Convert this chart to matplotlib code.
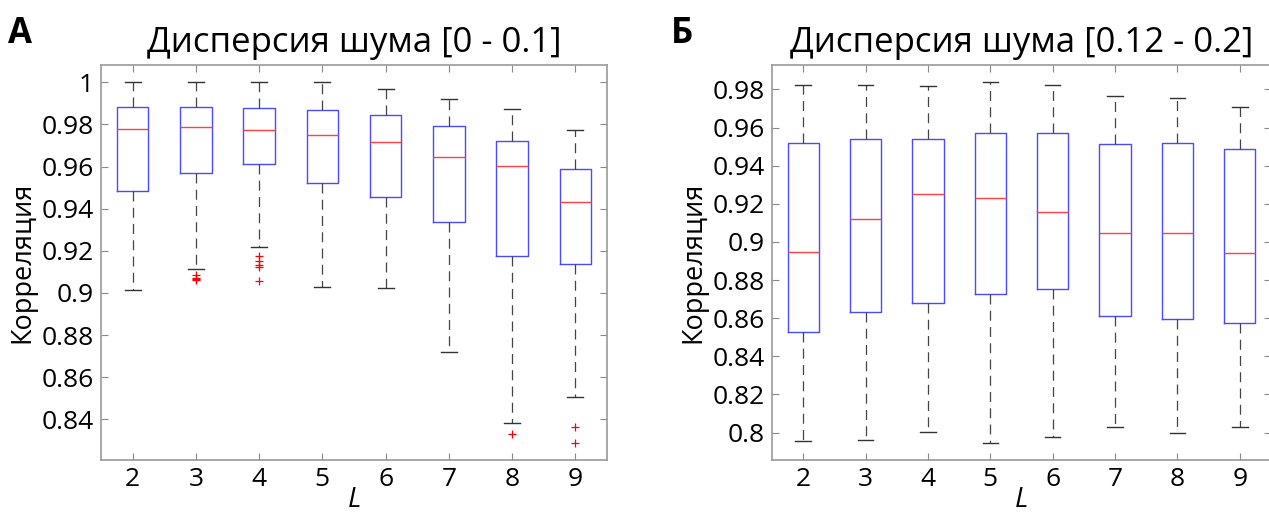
import matplotlib
matplotlib.use("Agg")
import matplotlib.pyplot as plt

plt.rcParams['font.family'] = ['Open Sans', 'DejaVu Sans']

L_values = [2, 3, 4, 5, 6, 7, 8, 9]

# Panel A: noise variance [0 - 0.1]
a_whislo = [0.9016, 0.9116, 0.9216, 0.9026, 0.9023, 0.8719, 0.8383, 0.8505]
a_q1     = [0.9484, 0.9571, 0.9612, 0.9523, 0.9457, 0.9338, 0.9176, 0.9137]
a_med    = [0.9780, 0.9789, 0.9772, 0.9748, 0.9715, 0.9645, 0.9602, 0.9433]
a_q3     = [0.9881, 0.9883, 0.9876, 0.9870, 0.9845, 0.9792, 0.9723, 0.9587]
a_whishi = [1.0000, 1.0000, 1.0000, 1.0000, 0.9967, 0.9919, 0.9875, 0.9772]
a_fliers = [[], [0.9084, 0.9073, 0.9066, 0.9062], [0.9175, 0.9153, 0.9132, 0.9124, 0.9056],
            [], [], [], [0.8332], [0.8364, 0.8289]]

# Panel B: noise variance [0.12 - 0.2]
b_whislo = [0.7958, 0.7961, 0.8003, 0.7947, 0.7979, 0.8031, 0.8000, 0.8029]
b_q1     = [0.8529, 0.8631, 0.8678, 0.8727, 0.8751, 0.8611, 0.8594, 0.8573]
b_med    = [0.8949, 0.9120, 0.9251, 0.9230, 0.9155, 0.9047, 0.9048, 0.8943]
b_q3     = [0.9520, 0.9538, 0.9541, 0.9573, 0.9573, 0.9512, 0.9519, 0.9489]
b_whishi = [0.9821, 0.9821, 0.9817, 0.9837, 0.9824, 0.9767, 0.9755, 0.9706]
b_fliers = [[], [], [], [], [], [], [], []]

a_yticks = [0.84, 0.86, 0.88, 0.9, 0.92, 0.94, 0.96, 0.98, 1.0]
a_yticklabels = ['0.84', '0.86', '0.88', '0.9', '0.92', '0.94', '0.96', '0.98', '1']
b_yticks = [0.8, 0.82, 0.84, 0.86, 0.88, 0.9, 0.92, 0.94, 0.96, 0.98]
b_yticklabels = ['0.8', '0.82', '0.84', '0.86', '0.88', '0.9', '0.92', '0.94', '0.96', '0.98']

titles = ['Дисперсия шума [0 - 0.1]', 'Дисперсия шума [0.12 - 0.2]']
panel_letters = ['А', 'Б']


def make_stats(wlo, q1, med, q3, whi, fl):
    stats = []
    for i in range(len(L_values)):
        stats.append(dict(whislo=wlo[i], q1=q1[i], med=med[i], q3=q3[i],
                          whishi=whi[i], fliers=fl[i], label=str(L_values[i])))
    return stats


fig = plt.figure(figsize=(12.69, 5.12), dpi=100)
ax1 = fig.add_axes([101 / 1269, 1 - 460 / 512, 506 / 1269, 395 / 512])
ax2 = fig.add_axes([772 / 1269, 1 - 460 / 512, 499 / 1269, 395 / 512])

gray = '#888888'
panels = [
    (ax1, make_stats(a_whislo, a_q1, a_med, a_q3, a_whishi, a_fliers), (0.8207, 1.0082),
     a_yticks, a_yticklabels),
    (ax2, make_stats(b_whislo, b_q1, b_med, b_q3, b_whishi, b_fliers), (0.7856, 0.9928),
     b_yticks, b_yticklabels),
]

for k, (ax, stats, ylim, yt, ytl) in enumerate(panels):
    ax.bxp(stats, positions=L_values, widths=0.5, showfliers=True,
           boxprops=dict(color='#4a4aff', linewidth=1.0),
           medianprops=dict(color='#ff4040', linewidth=1.0),
           whiskerprops=dict(color='#444444', linewidth=0.9, linestyle=(0, (8, 5))),
           capprops=dict(color='#333333', linewidth=1.0),
           flierprops=dict(marker='+', markeredgecolor='red', markersize=6,
                           markeredgewidth=0.9, linestyle='none'))
    ax.set_xlim(1.5, 9.5)
    ax.set_ylim(*ylim)
    ax.set_xticks(L_values)
    ax.set_xticklabels([str(v) for v in L_values])
    ax.set_yticks(yt)
    ax.set_yticklabels(ytl)
    ax.tick_params(direction='in', length=5, width=0.8, color=gray,
                   top=True, right=True, labelsize=19, pad=5)
    for s in ax.spines.values():
        s.set_color('#999999')
        s.set_linewidth(1.2)
    ax.set_title(titles[k], fontsize=25, pad=9)
    ax.set_ylabel('Корреляция', fontsize=19.5, labelpad=4)
    ax.set_xlabel('L', fontsize=20, style='italic', labelpad=-4)

fig.text(8 / 1269, 1 - 43 / 512, panel_letters[0], fontsize=25, fontweight='bold')
fig.text(671 / 1269, 1 - 43 / 512, panel_letters[1], fontsize=25, fontweight='bold')

fig.savefig('out.png', dpi=100)
